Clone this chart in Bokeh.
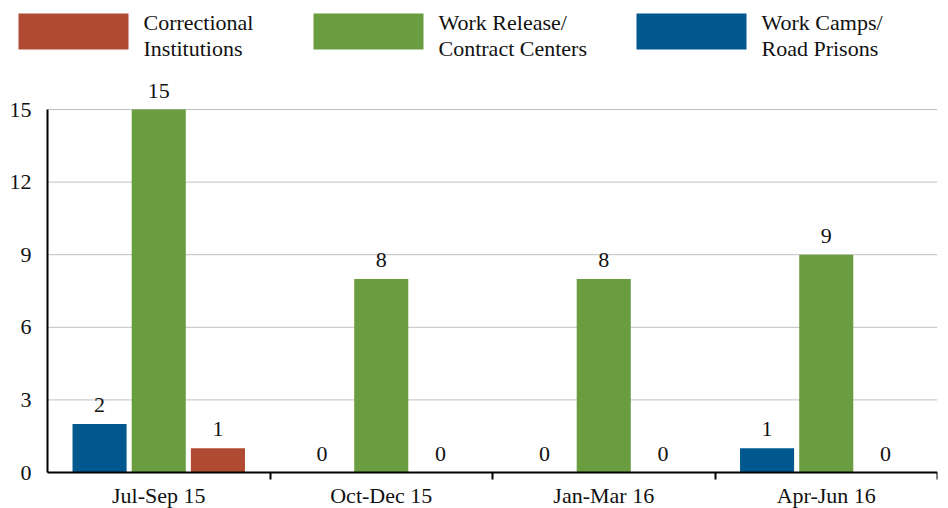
from bokeh.plotting import figure
from bokeh.models import Range1d, FixedTicker, ColumnDataSource
from bokeh.core.properties import value
from bokeh.embed import file_html
from bokeh.resources import INLINE

# ---- data ----
quarters = ["Jul-Sep 15", "Oct-Dec 15", "Jan-Mar 16", "Apr-Jun 16"]
work_camps = [2, 0, 0, 1]          # Work Camps/ Road Prisons
work_release = [15, 8, 8, 9]       # Work Release/ Contract Centers
correctional = [1, 0, 0, 0]        # Correctional Institutions
y_ticks = [0, 3, 6, 9, 12, 15]

legend_lines = [["Correctional", "Institutions"],
                ["Work Release/", "Contract Centers"],
                ["Work Camps/", "Road Prisons"]]

# ---- style ----
RED = "#B04A32"
GREEN = "#6A9C40"
BLUE = "#01588F"
FONT = "'Liberation Serif', serif"
FS = "22px"

W, H = 945, 508
FRAME_W = 937                    # frame spans page x 0..937, y 0..508
AXIS_X = 47                      # pixel column of the value axis
AXIS_Y = 472                     # pixel row of the category axis
TOP15 = 109                      # pixel row of value 15
n = len(quarters)
x_start = -AXIS_X / (FRAME_W - AXIS_X) * n
ppu = (AXIS_Y - TOP15) / 15
y_start = -(H - AXIS_Y) / ppu
y_end = AXIS_Y / ppu

centers = [i + 0.5 for i in range(n)]
off = 0.266
bw = 0.243

p = figure(width=W, height=H, x_range=Range1d(x_start, n), y_range=Range1d(y_start, y_end),
           toolbar_location=None, output_backend="svg",
           min_border_left=0, min_border_right=W - FRAME_W, min_border_top=0,
           min_border_bottom=0, outline_line_color=None)
# pixel-like helper ranges for the legend block
p.extra_x_ranges["px"] = Range1d(0, FRAME_W)
p.extra_y_ranges["px"] = Range1d(H, 0)

# grid lines (only across the plotting area, right of the value axis)
p.xgrid.visible = False
p.ygrid.visible = False
p.segment(x0=[0] * (len(y_ticks) - 1), x1=[n] * (len(y_ticks) - 1),
          y0=y_ticks[1:], y1=y_ticks[1:], line_color="#C0C0C0", line_width=1)

series = [(work_camps, -off, BLUE), (work_release, 0.0, GREEN), (correctional, off, RED)]
for vals, o, col in series:
    src = ColumnDataSource(dict(x=[c + o for c in centers], top=vals,
                                lbl=[str(v) for v in vals]))
    p.vbar(x="x", top="top", bottom=0, width=bw, source=src,
           fill_color=col, line_color=None)
    p.text(x="x", y="top", text="lbl", source=src, y_offset=-19,
           text_font=value(FONT), text_font_size=FS, text_align="center",
           text_baseline="middle", text_color="#111111")

# ---- legend block ----
leg_colors = [RED, GREEN, BLUE]
leg_left = [18, 313, 636]
box_w, box_top, box_h = 110, 13, 36
p.quad(left=leg_left, right=[l + box_w for l in leg_left],
       top=[box_top] * 3, bottom=[box_top + box_h] * 3,
       fill_color=leg_colors, line_color=None,
       x_range_name="px", y_range_name="px")
tx, ty, tt = [], [], []
for l, lines in zip(leg_left, legend_lines):
    for k, s in enumerate(lines):
        tx.append(l + box_w + 15)
        ty.append(22 + 26 * k)
        tt.append(s)
p.text(x=tx, y=ty, text=tt, text_font=value(FONT), text_font_size=FS,
       text_baseline="middle", text_align="left", text_color="#111111",
       x_range_name="px", y_range_name="px")

# x axis, pinned at y = 0
p.xaxis.fixed_location = 0
p.xaxis.bounds = (0, n)
p.xaxis.ticker = FixedTicker(ticks=centers, minor_ticks=[i + 1 for i in range(n)])
p.xaxis.major_label_overrides = {c: q for c, q in zip(centers, quarters)}
p.xaxis.major_tick_out = 0
p.xaxis.major_tick_in = 0
p.xaxis.minor_tick_out = 7
p.xaxis.minor_tick_in = 0
p.xaxis.minor_tick_line_width = 2
p.xaxis.minor_tick_line_color = "black"
p.xaxis.axis_line_width = 2
p.xaxis.axis_line_color = "black"
p.xaxis.major_label_text_font = FONT
p.xaxis.major_label_text_font_size = FS
p.xaxis.major_label_text_color = "#111111"
p.xaxis.major_label_standoff = 3

# y axis, pinned at x = 0
p.yaxis.fixed_location = 0
p.yaxis.ticker = FixedTicker(ticks=y_ticks)
p.yaxis.bounds = (0, 15)
p.yaxis.major_tick_out = 0
p.yaxis.major_tick_in = 0
p.yaxis.minor_tick_out = 0
p.yaxis.minor_tick_in = 0
p.yaxis.axis_line_width = 2
p.yaxis.axis_line_color = "black"
p.yaxis.major_label_text_font = FONT
p.yaxis.major_label_text_font_size = FS
p.yaxis.major_label_text_color = "#111111"
p.yaxis.major_label_standoff = 16

open("out.html", "w").write(file_html(p, INLINE))
